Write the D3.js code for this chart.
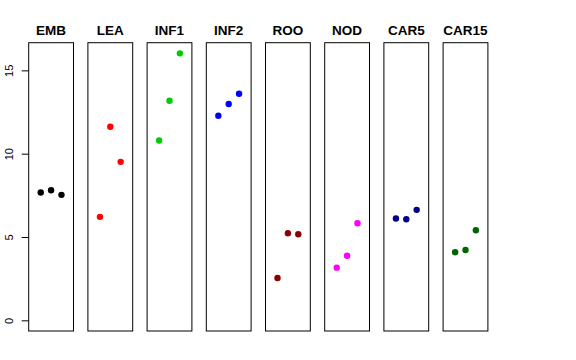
<!DOCTYPE html>
<html><head><meta charset="utf-8">
<script src="https://cdn.jsdelivr.net/npm/d3@7"></script>
<style>body{margin:0;background:#fff}svg{display:block}</style>
</head><body>
<script>
const categories = ["EMB","LEA","INF1","INF2","ROO","NOD","CAR5","CAR15"];
const colors = ["#000000","#FF0000","#00CD00","#0000FF","#8B0000","#FF00FF","#00008B","#006400"];
const EMB = [7.67, 7.81, 7.53];
const LEA = [6.21, 11.62, 9.51];
const INF1 = [10.79, 13.18, 16.02];
const INF2 = [12.28, 12.98, 13.6];
const ROO = [2.54, 5.23, 5.17];
const NOD = [3.16, 3.88, 5.83];
const CAR5 = [6.11, 6.07, 6.63];
const CAR15 = [4.09, 4.22, 5.41];
const series = [EMB, LEA, INF1, INF2, ROO, NOD, CAR5, CAR15];
const yTicks = [0, 5, 10, 15];

const W = 576, H = 360;
const svg = d3.select("body").append("svg").attr("width", W).attr("height", H);
const plotTop = 42.7, plotBottom = 331;
const y = d3.scaleLinear().domain([-0.64, 16.66]).range([plotBottom, plotTop]);
const panelX0 = 28.7, pitch = 59.2, pw = 44.8;

categories.forEach((c, i) => {
  const x0 = panelX0 + i * pitch;
  const x = d3.scaleLinear().domain([-0.16, 4.16]).range([x0, x0 + pw]);
  const g = svg.append("g");
  g.append("rect").attr("x", x0).attr("y", plotTop).attr("width", pw).attr("height", plotBottom - plotTop)
    .attr("fill", "none").attr("stroke", "#000").attr("stroke-width", 1);
  g.selectAll("circle").data(series[i]).join("circle")
    .attr("cx", (d, j) => x(j + 1)).attr("cy", d => y(d)).attr("r", 3.2)
    .attr("fill", colors[i]);
  g.append("text").attr("x", x0 + pw / 2).attr("y", 35).attr("text-anchor", "middle")
    .attr("font-family", "Liberation Sans, Arial, sans-serif").attr("font-weight", "bold")
    .attr("font-size", 13.5).text(c);
});

const ax = svg.append("g").attr("transform", `translate(${panelX0},0)`);
ax.call(d3.axisLeft(y).tickValues(yTicks).tickSize(7).tickFormat(d3.format("d")));
ax.select(".domain").remove();
ax.selectAll("line").attr("stroke", "#000");
ax.selectAll("text")
  .attr("font-family", "Liberation Sans, Arial, sans-serif").attr("font-size", 11)
  .attr("fill", "#000").attr("text-anchor", "middle")
  .attr("x", 0).attr("y", 0).attr("dy", 0)
  .attr("transform", "translate(-16,0) rotate(-90)");
</script>
</body></html>
